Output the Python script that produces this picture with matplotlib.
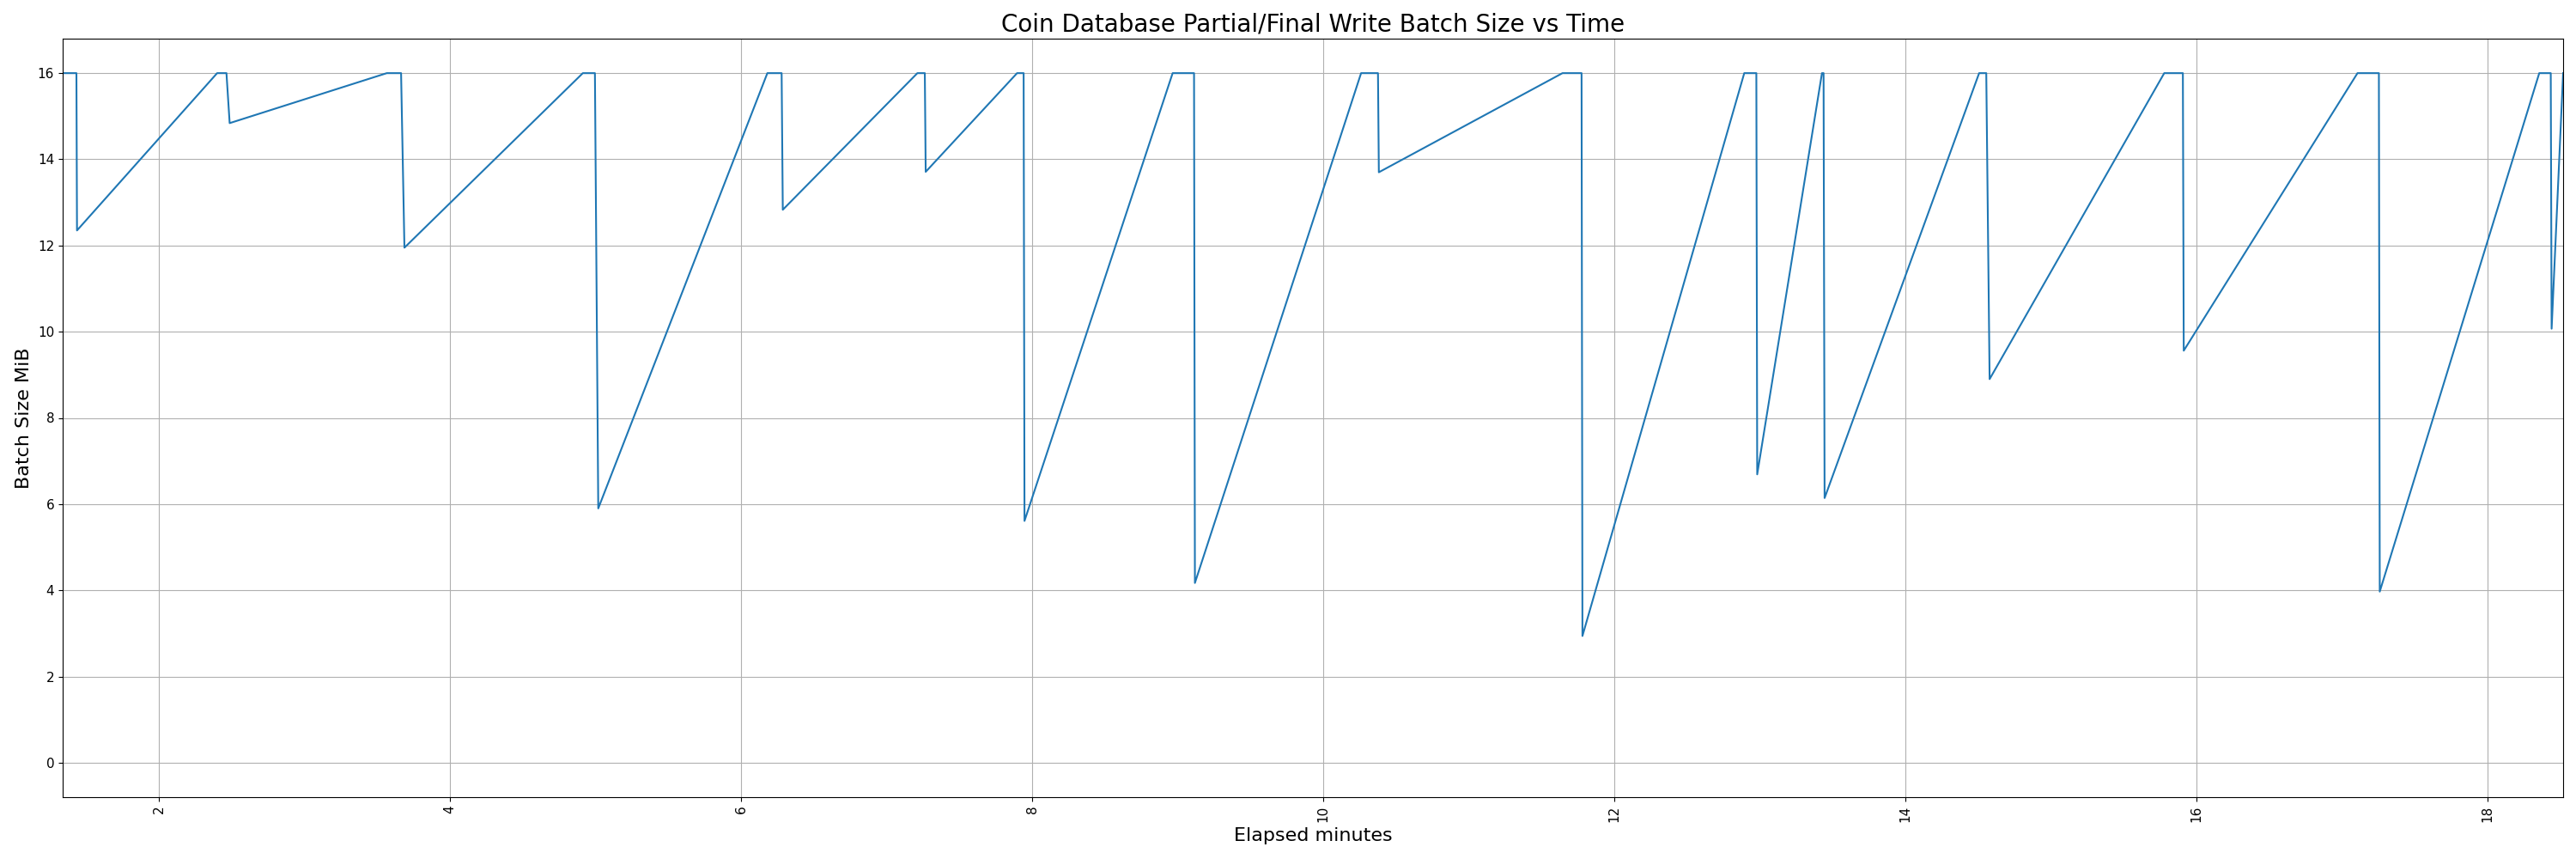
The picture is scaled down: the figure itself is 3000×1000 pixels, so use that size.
import matplotlib
matplotlib.use("Agg")
import matplotlib.pyplot as plt

# elapsed minutes and batch size (MiB)
minutes = [1.337, 1.432, 1.436, 2.399, 2.463, 2.485, 3.565, 3.663, 3.686,
           4.912, 4.995, 5.018, 6.180, 6.278, 6.286, 7.211, 7.262, 7.268,
           7.896, 7.941, 7.947, 8.965, 9.112, 9.118, 10.26, 10.376, 10.382,
           11.644, 11.775, 11.781, 12.893, 12.976, 12.982, 13.427, 13.438, 13.445,
           14.507, 14.556, 14.579, 15.779, 15.907, 15.913, 17.107, 17.254, 17.260,
           18.356, 18.435, 18.441, 18.52]
batch_mib = [16, 16, 12.35, 16, 16, 14.84, 16, 16, 11.95,
             16, 16, 5.90, 16, 16, 12.83, 16, 16, 13.71,
             16, 16, 5.61, 16, 16, 4.17, 16, 16, 13.70,
             16, 16, 2.94, 16, 16, 6.69, 16, 16, 6.14,
             16, 16, 8.90, 16, 16, 9.56, 16, 16, 3.97,
             16, 16, 10.07, 16]

fig, ax = plt.subplots(figsize=(30, 10), dpi=100)
ax.plot(minutes, batch_mib, color="#1f77b4", linewidth=1.5)
ax.set_xlim(minutes[0], minutes[-1])
ax.set_ylim(-0.8, 16.8)
ax.grid(True)
ax.tick_params(axis="both", labelsize=11)
ax.tick_params(axis="x", labelrotation=90)
ax.set_title("Coin Database Partial/Final Write Batch Size vs Time", fontsize=20)
ax.set_xlabel("Elapsed minutes", fontsize=16)
ax.set_ylabel("Batch Size MiB", fontsize=16)

fig.subplots_adjust(left=0.0243, right=0.995, top=0.955, bottom=0.072)
fig.savefig("out.png", dpi=100)
